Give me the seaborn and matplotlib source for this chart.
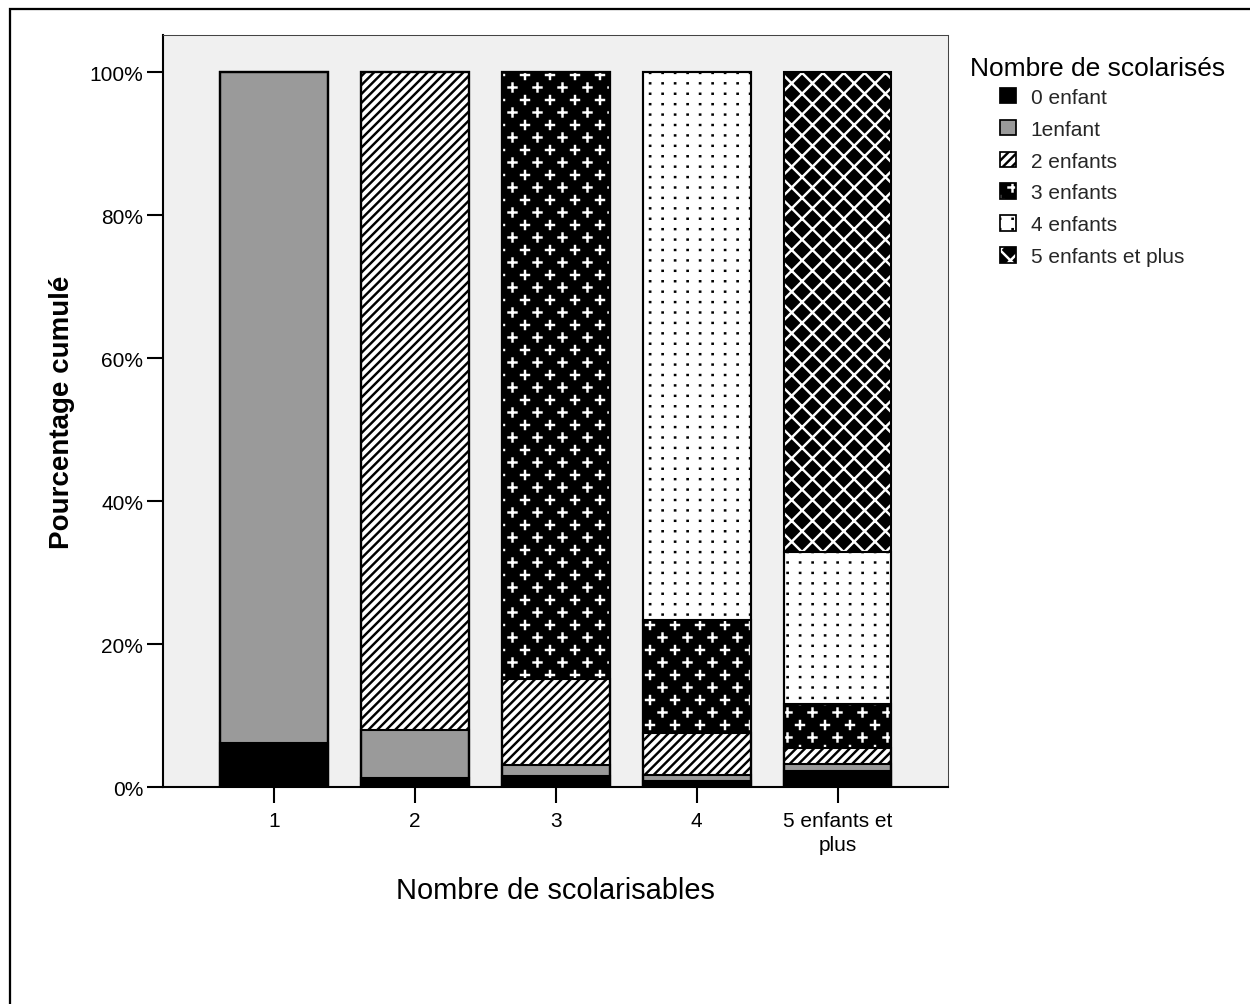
import numpy as np
import pandas as pd
import matplotlib
matplotlib.use("Agg")
import matplotlib.pyplot as plt
import matplotlib.hatch as mhatch
import matplotlib.patches as mpatches
from matplotlib.path import Path
from matplotlib.ticker import PercentFormatter
import seaborn as sns

# ---------------- data ----------------
categories = ["1", "2", "3", "4", "5 enfants et\nplus"]
series_labels = ["0 enfant", "1enfant", "2 enfants", "3 enfants", "4 enfants", "5 enfants et plus"]
legend_title = "Nombre de scolarisés"
pct_0 = [6.2, 1.2, 1.5, 0.8, 2.2]
pct_1 = [93.8, 6.8, 1.6, 0.9, 1.0]
pct_2 = [0.0, 92.0, 12.0, 5.8, 2.3]
pct_3 = [0.0, 0.0, 84.9, 15.9, 6.1]
pct_4 = [0.0, 0.0, 0.0, 76.6, 21.3]
pct_5 = [0.0, 0.0, 0.0, 0.0, 67.1]
series_values = [pct_0, pct_1, pct_2, pct_3, pct_4, pct_5]

# styles: (face, hatch colour, hatch)
styles = [
    ("#000000", "#000000", None),
    ("#9a9a9a", "#000000", None),
    ("#ffffff", "#000000", "/"),
    ("#000000", "#ffffff", "*"),
    ("#ffffff", "#000000", "o"),
    ("#000000", "#ffffff", "O"),
]


# ---------------- custom hatch patterns ----------------
def _segments(segs):
    v, c = [], []
    for (x0, y0, x1, y1) in segs:
        v += [(x0, y0), (x1, y1)]
        c += [Path.MOVETO, Path.LINETO]
    return np.array(v, float), np.array(c, dtype=Path.code_type)


class _CustomHatch(mhatch.HatchPatternBase):
    char = None

    def __init__(self, hatch, density):
        if self.char in hatch:
            self._v, self._c = self.build()
            self.num_vertices = len(self._v)
        else:
            self.num_vertices = 0

    def set_vertices_and_codes(self, vertices, codes):
        vertices[:] = self._v
        codes[:] = self._c


class DiagHatch(_CustomHatch):
    char = "/"
    n = 14

    def build(self):
        segs = [(k / self.n, 0, 1 + k / self.n, 1) for k in range(-self.n, self.n + 1)]
        return _segments(segs)


class DiamondHatch(_CustomHatch):
    char = "O"
    n = 6

    def build(self):
        segs = [(k / self.n, 0, 1 + k / self.n, 1) for k in range(-self.n, self.n + 1)]
        segs += [(k / self.n, 0, k / self.n - 1, 1) for k in range(0, 2 * self.n + 1)]
        return _segments(segs)


class PlusHatch(_CustomHatch):
    char = "*"
    nx, ny, a = 5, 10, 0.032

    def build(self):
        segs = []
        for r in range(self.ny + 1):
            y = r / self.ny
            if r % 2 == 0:
                xs = np.arange(self.nx + 1) / self.nx
            else:
                xs = (np.arange(self.nx) + 0.5) / self.nx
            for x in xs:
                segs.append((x - self.a, y, x + self.a, y))
                segs.append((x, y - self.a, x, y + self.a))
        return _segments(segs)


class DotHatch(_CustomHatch):
    char = "o"
    nx, ny = 10, 12

    def build(self):
        segs = []
        for r in range(self.ny + 1):
            for cidx in range(self.nx + 1):
                x, y = cidx / self.nx, r / self.ny
                segs.append((x, y, x + 0.002, y))
        return _segments(segs)


mhatch._hatch_types = [mhatch.HorizontalHatch, mhatch.VerticalHatch,
                       DiagHatch, DiamondHatch, PlusHatch, DotHatch]

# ---------------- theme ----------------
sns.set_style("white")
plt.rcParams["font.family"] = ["Liberation Sans", "DejaVu Sans"]
plt.rcParams["hatch.linewidth"] = 1.4

fig = plt.figure(figsize=(10, 8.04), dpi=125)
ax = fig.add_axes([0.1304, 0.2159, 0.628, 0.7483])
ax.set_facecolor("#f0f0f0")

df = pd.DataFrame({"cat": categories})
cum = np.cumsum(np.array(series_values), axis=0)
for k in range(len(series_labels)):
    df[f"cum{k}"] = cum[k]

bar_w = 0.766
# filled layers from top cumulative down
for k in range(len(series_labels) - 1, -1, -1):
    n0 = len(ax.patches)
    sns.barplot(data=df, x="cat", y=f"cum{k}", order=categories, width=bar_w,
                saturation=1, errorbar=None, color=styles[k][0], ax=ax)
    face, hcol, hatch = styles[k]
    for p in ax.patches[n0:]:
        p.set_facecolor(face)
        p.set_edgecolor(hcol)
        p.set_linewidth(0)
        if hatch:
            p.set_hatch(hatch)
# outlines
for k in range(len(series_labels) - 1, -1, -1):
    n0 = len(ax.patches)
    sns.barplot(data=df, x="cat", y=f"cum{k}", order=categories, width=bar_w,
                saturation=1, errorbar=None, color="black", ax=ax)
    for p in ax.patches[n0:]:
        p.set_facecolor("none")
        p.set_edgecolor("black")
        p.set_linewidth(1.2)
        p.set_hatch(None)

ax.set_xlim(-0.787, 4.784)
ax.set_ylim(0, 105.2)
ax.set_yticks([0, 20, 40, 60, 80, 100])
ax.yaxis.set_major_formatter(PercentFormatter(xmax=100, decimals=0))

for s in ["left", "bottom"]:
    ax.spines[s].set_color("black")
    ax.spines[s].set_linewidth(1.2)
for s in ["top", "right"]:
    ax.spines[s].set_color("#444444")
    ax.spines[s].set_linewidth(0.6)

ax.tick_params(axis="both", which="major", direction="out", length=9, width=1.2,
               color="black", labelsize=12, labelcolor="black",
               bottom=True, left=True, top=False, right=False)
ax.tick_params(axis="y", pad=2.5)
ax.tick_params(axis="x", pad=5)
for lab in ax.get_xticklabels():
    lab.set_multialignment("center")
    lab.set_linespacing(1.3)

ax.set_xlabel("Nombre de scolarisables", fontsize=16.7, labelpad=12.5, color="black")
ax.set_ylabel("Pourcentage cumulé", fontsize=16, fontweight="bold", labelpad=8, color="black")

# legend
handles = []
for face, hcol, hatch in styles:
    fillp = mpatches.Patch(facecolor=face, edgecolor=hcol, hatch=hatch, linewidth=0)
    outl = mpatches.Patch(facecolor="none", edgecolor="black", linewidth=1.0)
    handles.append((fillp, outl))
leg = fig.legend(handles, series_labels,
                 loc="upper left", bbox_to_anchor=(0.8, 0.9115),
                 frameon=False, fontsize=12,
                 handlelength=0.77, handleheight=0.77, handletextpad=0.7,
                 labelspacing=0.615, borderpad=0, borderaxespad=0)
fig.text(970 / 1250, 1 - 76 / 1005, legend_title, fontsize=15.2,
         ha="left", va="baseline", color="black")

# outer frame (only left and top edges visible)
frame = mpatches.Rectangle((10 / 1250, -0.1), 2.0, 1 - 10 / 1005 + 0.1,
                           transform=fig.transFigure, fill=False,
                           edgecolor="black", linewidth=1.3)
fig.patches.append(frame)

fig.savefig("out.png", dpi=125, facecolor="white")
